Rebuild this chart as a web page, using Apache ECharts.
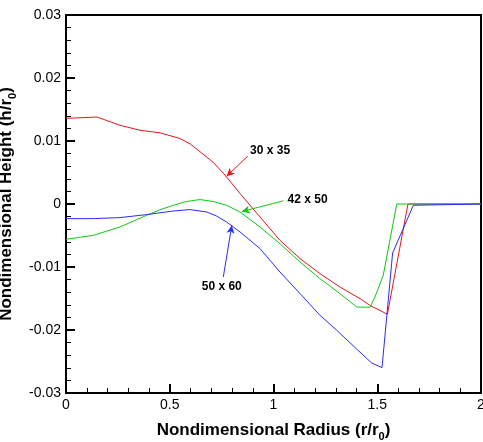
<!DOCTYPE html>
<html><head><meta charset="utf-8">
<script src="https://cdn.jsdelivr.net/npm/echarts@6/dist/echarts.min.js"></script>
<style>html,body{margin:0;padding:0;background:#fff}#c{width:483px;height:442px}</style>
</head><body><div id="c"></div>
<script>
// Data (r/r0, h/r0)
var red30x35_r = [0.000, 0.150, 0.260, 0.357, 0.453, 0.549, 0.600, 0.646, 0.710, 0.766, 0.839, 0.935, 1.031, 1.128, 1.224, 1.320, 1.417, 1.465, 1.549, 1.648, 2.000];
var red30x35_h = [0.0136, 0.0138, 0.0125, 0.0117, 0.0113, 0.0104, 0.0095, 0.0083, 0.0066, 0.0046, 0.00165, -0.00206, -0.00576, -0.00867, -0.01105, -0.01317, -0.01502, -0.0161, -0.0175, 0.0, 0.0];

var green42x50_r = [0.000, 0.132, 0.260, 0.389, 0.450, 0.517, 0.580, 0.646, 0.710, 0.774, 0.839, 0.935, 1.031, 1.128, 1.224, 1.320, 1.401, 1.465, 1.489, 1.529, 1.594, 2.000];
var green42x50_h = [-0.0056, -0.00497, -0.00365, -0.00179, -0.00095, -0.00021, 0.0004, 0.0007, 0.0004, -0.00021, -0.00127, -0.00365, -0.00629, -0.00921, -0.01184, -0.01422, -0.01635, -0.01640, -0.01476, -0.0113, 0.0, 0.0];

var blue50x60_r = [0.000, 0.132, 0.260, 0.389, 0.517, 0.598, 0.678, 0.725, 0.774, 0.839, 0.935, 1.031, 1.128, 1.224, 1.305, 1.400, 1.473, 1.523, 1.574, 1.674, 2.000];
var blue50x60_h = [-0.00232, -0.00232, -0.00216, -0.00168, -0.00111, -0.00089, -0.00127, -0.0019, -0.00286, -0.00444, -0.00708, -0.01079, -0.01422, -0.01767, -0.02005, -0.0230, -0.02524, -0.02597, -0.00778, -0.0002, 0.0];

var seriesNames = ['30 x 35', '42 x 50', '50 x 60'];
// annotation arrows: label anchor, arrow start, arrow end (r, h)
var annoLabel = [[0.887, 0.0084], [1.068, 0.0007], [0.654, -0.0131]];
var annoStart = [[0.876, 0.0076], [1.047, 0.0005], [0.758, -0.0116]];
var annoEnd   = [[0.774, 0.0044], [0.847, -0.0012], [0.799, -0.0034]];

var xTicks = ['0', '0.5', '1', '1.5', '2'];
var yTicks = ['-0.03', '-0.02', '-0.01', '0', '0.01', '0.02', '0.03'];

function pairs(a, b){ return a.map(function(v,i){ return [v, b[i]]; }); }
var colors = ['#e4141b', '#11c811', '#2b2bff'];
var datas = [pairs(red30x35_r, red30x35_h), pairs(green42x50_r, green42x50_h), pairs(blue50x60_r, blue50x60_h)];

var chart = echarts.init(document.getElementById('c'), null, {renderer:'canvas'});
var font = 'Liberation Sans, Arial, sans-serif';
var series = datas.map(function(d, i){
  return {
    name: seriesNames[i], type: 'line', data: d, symbol: 'none', z: 2 + i,
    lineStyle: {color: colors[i], width: 1},
    markLine: {
      silent: true, symbol: ['none', 'arrow'], symbolSize: [6, 8], animation: false,
      lineStyle: {color: colors[i], width: 1, type: 'solid'},
      label: {show: false},
      data: [[{coord: annoStart[i]}, {coord: annoEnd[i]}]]
    },
    markPoint: {
      silent: true, symbol: 'circle', symbolSize: 0, animation: false,
      label: {show: true, position: 'right', distance: 0, formatter: seriesNames[i],
        color: '#000', fontFamily: font, fontWeight: 'bold', fontSize: 12},
      data: [{coord: annoLabel[i]}]
    }
  };
});

function mainAxis(extra){
  var base = {
    axisLine: {show: true, onZero: false, lineStyle: {color: '#000', width: 2}},
    axisTick: {show: true, inside: true, length: 9, lineStyle: {color: '#000', width: 2}},
    minorTick: {show: true, splitNumber: 5, length: 5, lineStyle: {color: '#000', width: 1}},
    splitLine: {show: false}
  };
  return Object.assign(base, extra);
}
function frameAxis(pos, isX){
  return {
    type: 'value', position: pos, min: isX ? 0 : -0.03, max: isX ? 2 : 0.03,
    axisLine: {show: true, onZero: false, lineStyle: {color: '#000', width: 2}},
    axisTick: {show: false}, axisLabel: {show: false}, splitLine: {show: false}
  };
}
var nameRich = {
  a: {fontFamily: font, fontWeight: 'bold', fontSize: 17, color: '#000', verticalAlign: 'bottom'},
  s: {fontFamily: font, fontWeight: 'bold', fontSize: 11, color: '#000', verticalAlign: 'bottom', padding: [0,0,-3,0]}
};

chart.setOption({
  animation: false,
  backgroundColor: '#fff',
  grid: {left: 66, top: 15, width: 415, height: 378, containLabel: false, outerBoundsMode: 'none'},
  xAxis: [mainAxis({
    type: 'value', position: 'bottom', min: 0, max: 2, interval: 0.5,
    axisLabel: {color: '#000', fontFamily: font, fontSize: 14, margin: 5,
      formatter: function(v){ return xTicks[Math.round(v / 0.5)]; }},
    name: '{a|Nondimensional Radius (r/r}{s|0}{a|)}', nameLocation: 'middle', nameGap: 29,
    nameTextStyle: {rich: nameRich}
  }), frameAxis('top', true)],
  yAxis: [mainAxis({
    type: 'value', position: 'left', min: -0.03, max: 0.03, interval: 0.01,
    axisLabel: {color: '#000', fontFamily: font, fontSize: 14, margin: 5,
      formatter: function(v){ return yTicks[Math.round((v + 0.03) / 0.01)]; }},
    name: '{a|Nondimensional Height (h/r}{s|0}{a|)}', nameLocation: 'middle', nameGap: 42,
    nameTextStyle: {rich: nameRich}
  }), frameAxis('right', false)],
  series: series
});
</script></body></html>
